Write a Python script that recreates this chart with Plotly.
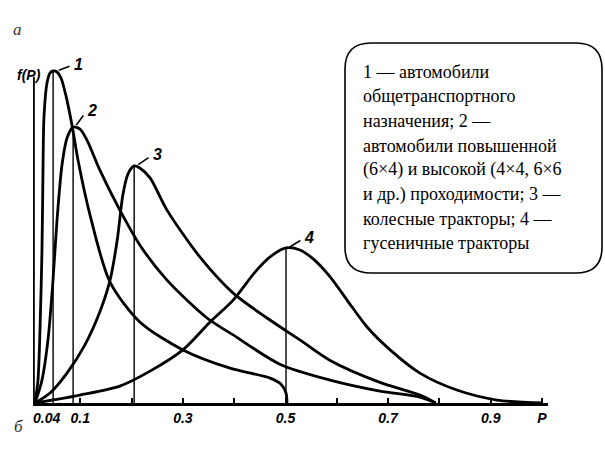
import plotly.graph_objects as go

# ---- data ----
p1 = [0.0117, 0.0175, 0.0214, 0.0253, 0.0273, 0.0292, 0.0351, 0.0409, 0.0468, 0.0546, 0.0624, 0.0721,
      0.0838, 0.0955, 0.119, 0.158, 0.216, 0.300, 0.392, 0.470, 0.491, 0.501, 0.503]
f1 = [0.0, 0.069, 0.220, 0.461, 0.702, 0.861, 0.964, 0.994, 1.0, 0.997, 0.979, 0.925,
      0.837, 0.732, 0.566, 0.364, 0.244, 0.160, 0.105, 0.075, 0.057, 0.030, 0.0]

p2 = [0.0117, 0.0253, 0.037, 0.0468, 0.0546, 0.0643, 0.0741, 0.0858, 0.0994, 0.113, 0.138, 0.172,
      0.216, 0.269, 0.347, 0.398, 0.489, 0.587, 0.684, 0.762, 0.793]
f2 = [0.0, 0.069, 0.190, 0.370, 0.551, 0.717, 0.798, 0.831, 0.825, 0.792, 0.702, 0.596,
      0.476, 0.370, 0.256, 0.205, 0.117, 0.069, 0.036, 0.018, 0.0]

p3 = [0.0117, 0.041, 0.074, 0.109, 0.138, 0.158, 0.172, 0.183, 0.193, 0.205, 0.216, 0.236, 0.269,
      0.333, 0.398, 0.464, 0.528, 0.587, 0.684, 0.762, 0.793]
f3 = [0.0, 0.030, 0.090, 0.175, 0.274, 0.370, 0.491, 0.627, 0.690, 0.714, 0.708, 0.678, 0.581,
      0.440, 0.331, 0.256, 0.190, 0.128, 0.062, 0.024, 0.0]

p4 = [0.0117, 0.099, 0.177, 0.236, 0.300, 0.353, 0.398, 0.441, 0.470, 0.501, 0.528, 0.554, 0.587,
      0.620, 0.659, 0.704, 0.762, 0.834, 0.912, 1.0]
f4 = [0.0, 0.024, 0.051, 0.096, 0.160, 0.244, 0.310, 0.395, 0.440, 0.467, 0.461, 0.434, 0.380,
      0.310, 0.229, 0.160, 0.090, 0.039, 0.009, 0.0]

peak_p = [0.047, 0.086, 0.205, 0.501]
peak_f = [1.0, 0.831, 0.714, 0.467]
curve_labels = ["1", "2", "3", "4"]

tick_vals = [0.1, 0.2, 0.3, 0.4, 0.5, 0.6, 0.7, 0.8, 0.9, 1.0]
tick_text = ["0.1", "", "0.3", "", "0.5", "", "0.7", "", "0.9", "P"]
extra_tick = (0.04, "0.04")

legend_lines = [
    "1 — автомобили",
    "общетранспортного",
    "назначения; 2 —",
    "автомобили повышенной",
    "(6×4) и высокой (4×4, 6×6",
    "и др.) проходимости; 3 —",
    "колесные тракторы; 4 —",
    "гусеничные тракторы",
]

SERIF = "Liberation Serif, DejaVu Serif, Times New Roman, serif"
NARROW = "Liberation Sans Narrow, Liberation Sans, Arial, sans-serif"

# ---- layout geometry (pixels) ----
W, H = 605, 459
ML, MR, MT, MB = 33, 57, 40, 56
PW, PH = W - ML - MR, H - MT - MB
X0 = (ML - 29) / 513
X1 = X0 + PW / 513
YTOP = PH / 332


def px(x):
    return (x - ML) / PW


def py(y):
    return (H - MB - y) / PH


fig = go.Figure()

# peak verticals
for p, f in zip(peak_p, peak_f):
    fig.add_trace(go.Scatter(x=[p, p], y=[0, f], mode="lines",
                             line=dict(color="black", width=1.4), hoverinfo="skip"))

for xs, ys in [(p1, f1), (p2, f2), (p3, f3), (p4, f4)]:
    fig.add_trace(go.Scatter(x=xs, y=ys, mode="lines",
                             line=dict(color="black", width=2.8, shape="spline", smoothing=0.8),
                             hoverinfo="skip"))

# vertical axis f(P)
fig.add_trace(go.Scatter(x=[X0 + 0.001, X0 + 0.001], y=[0, 0.982], mode="lines",
                         line=dict(color="black", width=2.6), hoverinfo="skip"))

# curve number labels with leader lines
offs = [(0.022, 0.010, 0.032, 0.020), (0.012, 0.030, 0.020, 0.050),
        (0.016, 0.020, 0.028, 0.036), (0.016, 0.018, 0.028, 0.032)]
for (p, f, lab, (dx1, dy1, dx2, dy2)) in zip(peak_p, peak_f, curve_labels, offs):
    fig.add_shape(type="line", xref="x", yref="y", x0=p + dx1 * 0.5, y0=f + dy1 * 0.2,
                  x1=p + dx2, y1=f + dy2 * 0.7, line=dict(color="black", width=1.6))
    fig.add_annotation(x=p + dx2 + 0.004, y=f + dy2, xref="x", yref="y", text=lab,
                       showarrow=False, xanchor="left", yanchor="middle",
                       font=dict(family="Liberation Sans, Arial", size=16, color="black",
                                 style="italic", weight="bold"))

# 0.04 label
fig.add_annotation(x=extra_tick[0] - 0.006, y=0, xref="x", yref="y", text=extra_tick[1],
                   showarrow=False, yanchor="top", yshift=-5,
                   font=dict(family=NARROW, size=14, color="black", style="italic", weight="bold"))

# f(P) label
fig.add_annotation(x=px(43), y=py(65), xref="paper", yref="paper", text="f(P)",
                   showarrow=False, xanchor="right",
                   font=dict(family=NARROW, size=14, color="black", style="italic", weight="bold"))

# panel letters
fig.add_annotation(x=px(11), y=py(18), xref="paper", yref="paper", text="а", showarrow=False,
                   font=dict(family=SERIF, size=17, color="#333", style="italic"))
fig.add_annotation(x=px(12), y=py(438), xref="paper", yref="paper", text="б", showarrow=False,
                   font=dict(family=SERIF, size=17, color="#333", style="italic"))

# legend box (rounded rect)
L, R, T, B, r = 345, 602, 43, 273, 26
path = (f"M {px(L + r)} {py(T)} L {px(R - r)} {py(T)} Q {px(R)} {py(T)} {px(R)} {py(T + r)} "
        f"L {px(R)} {py(B - r)} Q {px(R)} {py(B)} {px(R - r)} {py(B)} "
        f"L {px(L + r)} {py(B)} Q {px(L)} {py(B)} {px(L)} {py(B - r)} "
        f"L {px(L)} {py(T + r)} Q {px(L)} {py(T)} {px(L + r)} {py(T)} Z")
fig.add_shape(type="path", xref="paper", yref="paper", path=path,
              line=dict(color="black", width=1.6), fillcolor="white", layer="above")

for i, txt in enumerate(legend_lines):
    base = 77 + 24.5 * i
    fig.add_annotation(x=px(361), y=py(base - 5), xref="paper", yref="paper", text=txt,
                       showarrow=False, xanchor="left", yanchor="middle",
                       font=dict(family=SERIF, size=18, color="black"))

fig.update_layout(
    width=W, height=H, margin=dict(l=ML, r=MR, t=MT, b=MB),
    paper_bgcolor="white", plot_bgcolor="white", showlegend=False,
    xaxis=dict(range=[X0, X1], showgrid=False, zeroline=False, showline=True,
               linecolor="black", linewidth=2.6, ticks="inside", ticklen=5, tickwidth=1.5,
               tickcolor="black", tickvals=tick_vals, ticktext=tick_text,
               tickfont=dict(family=NARROW, size=14, color="black", style="italic", weight="bold")),
    yaxis=dict(range=[0, YTOP], visible=False, showgrid=False, zeroline=False),
)

fig.write_html("out.html")
